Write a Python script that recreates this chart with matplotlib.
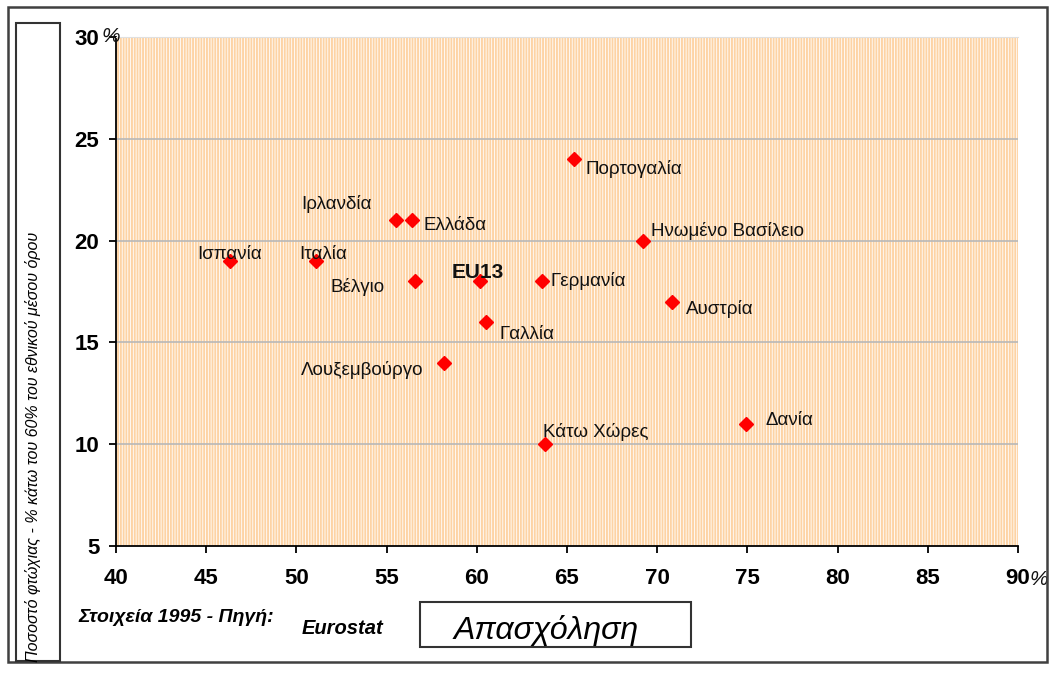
import matplotlib
matplotlib.use("Agg")
import matplotlib.pyplot as plt
from matplotlib.patches import Rectangle

# data (employment %, poverty rate %) - Eurostat 1995
countries = ["Ισπανία", "Ιταλία", "Ιρλανδία", "Ελλάδα", "Βέλγιο", "EU13", "Γαλλία",
             "Λουξεμβούργο", "Γερμανία", "Πορτογαλία", "Κάτω Χώρες",
             "Ηνωμένο Βασίλειο", "Αυστρία", "Δανία"]
employment = [46.3, 51.1, 55.5, 56.4, 56.6, 60.2, 60.5, 58.2, 63.6, 65.4, 63.8, 69.2, 70.8, 74.9]
poverty = [19, 19, 21, 21, 18, 18, 16, 14, 18, 24, 10, 20, 17, 11]

# label offsets from marker, in pixels (dx right, dy up)
label_dx = [-32, -17, -94, 12, -85, -29, 14, -143, 9, 11, -2, 8, 14, 20]
label_dy = [6, 6, 16, -5, -6, 9, -12, -7, 0, -10, 12, 10, -7, 3]

x_ticks = [40, 45, 50, 55, 60, 65, 70, 75, 80, 85, 90]
y_ticks = [5, 10, 15, 20, 25, 30]

W, H = 1063, 675
PX = 0.72  # points per pixel at dpi 100

plt.rcParams["font.family"] = ["Liberation Sans", "DejaVu Sans"]
plt.rcParams["hatch.linewidth"] = 1.4

fig = plt.figure(figsize=(W / 100, H / 100), dpi=100)
ax = fig.add_axes([116 / W, 1 - 546 / H, (1018 - 116) / W, (546 - 37) / H])

# striped orange background
ax.add_patch(Rectangle((0, 0), 1, 1, transform=ax.transAxes, facecolor="#ffffff",
                       edgecolor="#fdd3a4", hatch="||||||", lw=0, zorder=0))

ax.set_xlim(40, 90)
ax.set_ylim(5, 30)
ax.set_xticks(x_ticks)
ax.set_yticks(y_ticks)
ax.set_xticklabels([str(t) for t in x_ticks])
ax.set_yticklabels([str(t) for t in y_ticks])

for v in y_ticks[1:-1]:
    ax.axhline(v, color="#b8b8b8", lw=1.2, zorder=1)

ax.spines["right"].set_visible(False)
ax.spines["top"].set_color("#e0e0e0")
ax.spines["left"].set_linewidth(1.3)
ax.spines["bottom"].set_linewidth(1.3)
ax.tick_params(axis="x", direction="out", length=5, width=1.3, pad=11,
               labelsize=16)
ax.tick_params(axis="y", direction="out", length=5, width=1.3, pad=7,
               labelsize=16)
for lab in ax.get_xticklabels() + ax.get_yticklabels():
    lab.set_fontweight("bold")

# the "%" signs on the top and right tick labels
ax.text(-0.006, 1.0, "%", transform=ax.transAxes, ha="center", va="center",
        fontsize=15, style="italic", color="#111111")
ax.text(1.0235, -0.066, "%", transform=ax.transAxes, ha="center", va="center",
        fontsize=15, style="italic", color="#111111")

ax.plot(employment, poverty, linestyle="none", marker="D", markersize=7.5,
        color="#ff0000", markeredgecolor="#ff0000", zorder=3)

for name, x, y, dx, dy in zip(countries, employment, poverty, label_dx, label_dy):
    big = name == "EU13"
    ax.annotate(name, (x, y), xytext=(dx * PX, dy * PX), textcoords="offset points",
                ha="left", va="center", fontsize=15 if big else 13.5,
                fontweight="bold" if big else "normal", color="#111111", zorder=4)

# frames
fig.add_artist(Rectangle((8 / W, 1 - 662 / H), (1047 - 8) / W, (662 - 7) / H,
                         transform=fig.transFigure, fill=False, edgecolor="#404040", lw=1.8))
fig.add_artist(Rectangle((16 / W, 1 - 661 / H), (60 - 16) / W, (661 - 23) / H,
                         transform=fig.transFigure, fill=False, edgecolor="#333333", lw=1.5))
fig.add_artist(Rectangle((420 / W, 1 - 647 / H), (691 - 420) / W, (647 - 602) / H,
                         transform=fig.transFigure, fill=False, edgecolor="#333333", lw=1.5))

fig.text(33 / W, 1 - 447 / H, "Ποσοστό φτώχιας - % κάτω του 60% του εθνικού μέσου όρου",
         rotation=90, ha="center", va="center", fontsize=11.5, style="italic")
fig.text(78 / W, 1 - 617 / H, "Στοιχεία 1995 - Πηγή:", ha="left", va="center",
         fontsize=14, style="italic", fontweight="bold")
fig.text(302 / W, 1 - 628 / H, "Eurostat", ha="left", va="center",
         fontsize=14.5, style="italic", fontweight="bold")
fig.text(546 / W, 1 - 631 / H, "Απασχόληση", ha="center", va="center",
         fontsize=23, style="italic")

fig.savefig("out.png", dpi=100)
